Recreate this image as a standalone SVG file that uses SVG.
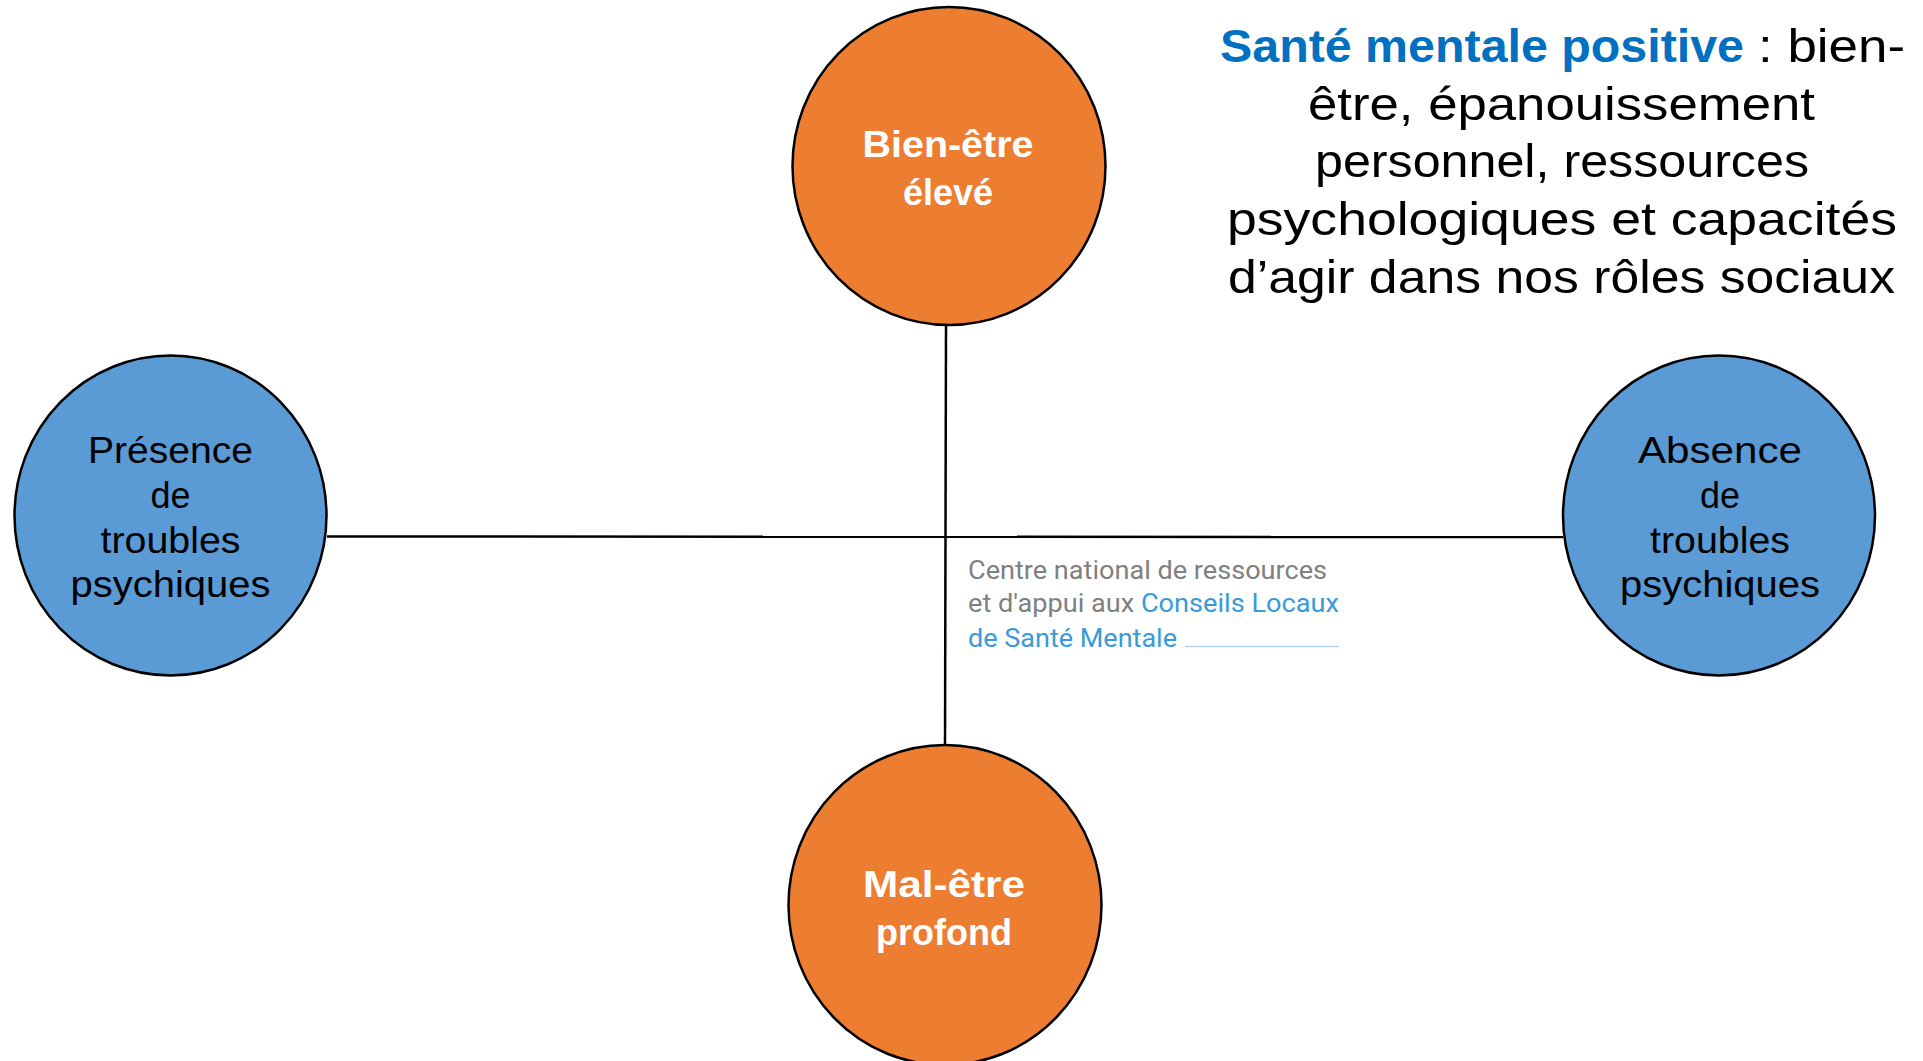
<svg xmlns="http://www.w3.org/2000/svg" width="1923" height="1061" viewBox="0 0 1923 1061">
<style>
.orange{fill:#ED7D31;stroke:#000;stroke-width:2.5}
.blue{fill:#5B9BD5;stroke:#000;stroke-width:2.5}
.wt{font-family:"Liberation Sans",Arial,sans-serif;font-weight:bold;font-size:36px;fill:#fff;text-anchor:middle}
.bt{font-family:"Liberation Sans",Arial,sans-serif;font-size:36px;fill:#000;text-anchor:middle}
.title{font-family:"Liberation Sans",Arial,sans-serif;font-size:46px;fill:#000;text-anchor:middle}
.title-key{font-family:"Liberation Sans",Arial,sans-serif;font-size:46px;fill:#0070C0;font-weight:bold;text-anchor:start}
.title-start{font-family:"Liberation Sans",Arial,sans-serif;font-size:46px;fill:#000;text-anchor:start}
.logo{font-family:Roboto,"Liberation Sans",sans-serif;font-size:25px;fill:#7F7F7F}
.logo-blue{fill:#3A9AD9}
.conn{stroke:#000;stroke-width:2.5;fill:none}
</style>
<rect width="1923" height="1061" fill="#fff"/>
<g id="connectors">
<line class="conn" x1="327" y1="536.5" x2="1563" y2="537"/>
<line class="conn" x1="946" y1="325" x2="945" y2="746"/>
</g>
<g id="node-bien-etre">
<ellipse class="orange" cx="949" cy="166" rx="156.5" ry="159"/>
<text class="wt" x="948" y="157" textLength="171" lengthAdjust="spacingAndGlyphs">Bien-être</text>
<text class="wt" x="948" y="205">élevé</text>
</g>
<g id="node-presence">
<ellipse class="blue" cx="170.5" cy="515.5" rx="156" ry="160"/>
<text class="bt" x="170.5" y="463" textLength="165" lengthAdjust="spacingAndGlyphs">Présence</text>
<text class="bt" x="170.5" y="508">de</text>
<text class="bt" x="170.5" y="553" textLength="140" lengthAdjust="spacingAndGlyphs">troubles</text>
<text class="bt" x="170.5" y="597" textLength="200" lengthAdjust="spacingAndGlyphs">psychiques</text>
</g>
<g id="node-absence">
<ellipse class="blue" cx="1719" cy="515.5" rx="156" ry="160"/>
<text class="bt" x="1720" y="463" textLength="164" lengthAdjust="spacingAndGlyphs">Absence</text>
<text class="bt" x="1720" y="508">de</text>
<text class="bt" x="1720" y="553" textLength="140" lengthAdjust="spacingAndGlyphs">troubles</text>
<text class="bt" x="1720" y="597" textLength="200" lengthAdjust="spacingAndGlyphs">psychiques</text>
</g>
<g id="node-mal-etre">
<ellipse class="orange" cx="945" cy="905" rx="156.5" ry="160"/>
<text class="wt" x="944" y="897" textLength="162" lengthAdjust="spacingAndGlyphs">Mal-être</text>
<text class="wt" x="944" y="945">profond</text>
</g>
<g id="definition">
<text class="title-key" x="1220" y="62" textLength="524" lengthAdjust="spacingAndGlyphs">Santé mentale positive</text>
<text class="title-start" x="1758" y="62" textLength="147" lengthAdjust="spacingAndGlyphs">: bien-</text>
<text class="title" x="1561.5" y="120" textLength="507" lengthAdjust="spacingAndGlyphs">être, épanouissement</text>
<text class="title" x="1562" y="177" textLength="494" lengthAdjust="spacingAndGlyphs">personnel, ressources</text>
<text class="title" x="1562" y="235" textLength="670" lengthAdjust="spacingAndGlyphs">psychologiques et capacités</text>
<text class="title" x="1561.5" y="293" textLength="667" lengthAdjust="spacingAndGlyphs">d’agir dans nos rôles sociaux</text>
</g>
<g id="logo">
<text class="logo" x="968" y="579" textLength="359" lengthAdjust="spacingAndGlyphs">Centre national de ressources</text>
<text class="logo" x="968" y="612" textLength="371" lengthAdjust="spacingAndGlyphs">et d'appui aux <tspan class="logo-blue">Conseils Locaux</tspan></text>
<text class="logo" x="968" y="647" textLength="209" lengthAdjust="spacingAndGlyphs"><tspan class="logo-blue">de Santé Mentale</tspan></text>
<line x1="1185" y1="646.5" x2="1339" y2="646.5" stroke="#B4D6F0" stroke-width="1.5"/>
</g>
</svg>
